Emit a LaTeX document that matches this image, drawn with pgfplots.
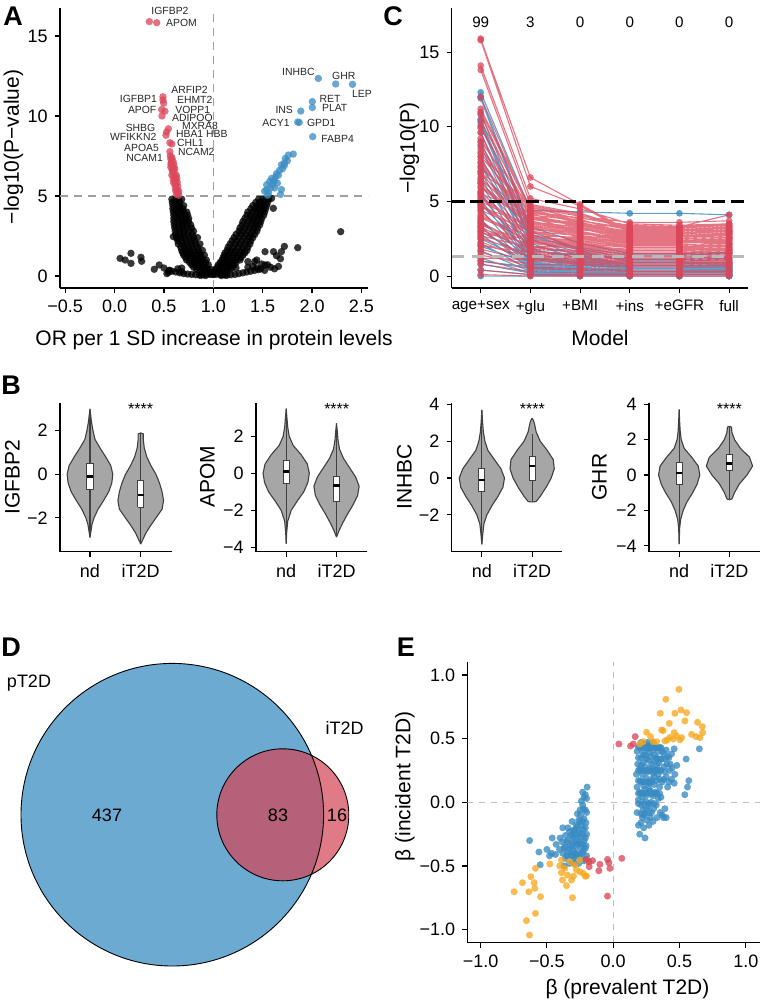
\documentclass[border=0pt]{standalone}
\usepackage{fontspec}
\setmainfont{Liberation Sans}
\usepackage{pgfplots}
\pgfplotsset{compat=1.18}
\usepackage{pgfplotstable}
\usepgfplotslibrary{fillbetween}

\definecolor{vred}{RGB}{220,72,92}
\definecolor{vblue}{RGB}{62,142,196}
\definecolor{cred}{RGB}{220,70,90}
\definecolor{cblue}{RGB}{55,138,194}
\definecolor{eorange}{RGB}{247,168,30}
\definecolor{ered}{RGB}{217,72,92}
\definecolor{eblue}{RGB}{55,138,194}
\definecolor{vgray}{RGB}{166,166,166}
\definecolor{vdark}{RGB}{64,64,64}
\definecolor{vennblue}{RGB}{109,170,210}
\definecolor{vennred}{RGB}{211,68,85}

\newcommand\tfont{\fontsize{10.5}{12}\selectfont}
\newcommand\kfont{\fontsize{9}{10}\selectfont}
\newcommand\sfont{\fontsize{7.6}{9}\selectfont}
\newcommand\lfont{\fontsize{5.2}{6}\selectfont}
\newcommand\pfont{\fontsize{13.5}{15}\selectfont\bfseries}

\pgfplotsset{
  gg/.style={scale only axis, axis lines*=left,
    axis line style={line width=0.55pt, black, -},
    tick align=outside, major tick length=2.6pt,
    every tick/.style={black, line width=0.55pt},
    tick label style={font=\kfont, text=black},
    clip mode=individual},
  pts/.style={only marks, mark=*, mark size=#1,
    mark options={draw opacity=0, fill opacity=0.78}},
}

% ---------- Panel A data ----------
\pgfplotstableread[row sep=\\]{
x y\\
0.90 0.1\\ 0.94 0.1\\ 0.97 0.1\\ 1.00 0.1\\ 0.88 0.05\\ 0.92 0.03\\ 1.08 0.03\\ 1.12 0.05\\
0.86 0.25\\ 0.92 0.25\\ 0.96 0.25\\
0.83 0.4\\ 0.87 0.4\\ 0.91 0.4\\ 0.95 0.4\\ 0.98 0.4\\
0.80 0.55\\ 0.85 0.55\\ 0.89 0.55\\ 0.93 0.55\\
0.78 0.7\\ 0.82 0.7\\ 0.86 0.7\\ 0.90 0.7\\ 0.95 0.7\\
0.76 0.85\\ 0.80 0.85\\ 0.84 0.85\\ 0.88 0.85\\ 0.92 0.85\\
0.73 1.0\\ 0.77 1.0\\ 0.81 1.0\\ 0.85 1.0\\ 0.89 1.0\\ 0.93 1.0\\
0.72 1.15\\ 0.76 1.15\\ 0.80 1.15\\ 0.84 1.15\\ 0.88 1.15\\
0.70 1.3\\ 0.74 1.3\\ 0.78 1.3\\ 0.83 1.3\\ 0.87 1.3\\ 0.91 1.3\\
0.69 1.45\\ 0.73 1.45\\ 0.77 1.45\\ 0.81 1.45\\ 0.86 1.45\\
0.68 1.6\\ 0.72 1.6\\ 0.76 1.6\\ 0.80 1.6\\ 0.85 1.6\\ 0.89 1.6\\
0.67 1.8\\ 0.71 1.8\\ 0.75 1.8\\ 0.79 1.8\\ 0.84 1.8\\
0.645 2.0\\ 0.69 2.0\\ 0.73 2.0\\ 0.78 2.0\\ 0.82 2.0\\ 0.865 2.0\\
0.64 2.2\\ 0.68 2.2\\ 0.72 2.2\\ 0.77 2.2\\ 0.81 2.2\\
0.63 2.4\\ 0.67 2.4\\ 0.71 2.4\\ 0.76 2.4\\ 0.80 2.4\\ 0.84 2.4\\
0.62 2.6\\ 0.66 2.6\\ 0.70 2.6\\ 0.74 2.6\\ 0.79 2.6\\
0.615 2.8\\ 0.66 2.8\\ 0.70 2.8\\ 0.75 2.8\\ 0.80 2.8\\
0.61 3.0\\ 0.65 3.0\\ 0.69 3.0\\ 0.73 3.0\\ 0.78 3.0\\
0.605 3.2\\ 0.65 3.2\\ 0.69 3.2\\ 0.73 3.2\\ 0.77 3.2\\
0.60 3.4\\ 0.64 3.4\\ 0.68 3.4\\ 0.71 3.4\\ 0.75 3.4\\
0.60 3.6\\ 0.64 3.6\\ 0.68 3.6\\ 0.72 3.6\\ 0.75 3.6\\
0.60 3.8\\ 0.63 3.8\\ 0.67 3.8\\ 0.71 3.8\\ 0.74 3.8\\
0.595 4.0\\ 0.63 4.0\\ 0.67 4.0\\ 0.70 4.0\\ 0.73 4.0\\
0.59 4.2\\ 0.62 4.2\\ 0.66 4.2\\ 0.69 4.2\\
0.59 4.4\\ 0.63 4.4\\ 0.66 4.4\\ 0.70 4.4\\
0.585 4.6\\ 0.62 4.6\\ 0.66 4.6\\
0.58 4.8\\ 0.62 4.8\\ 0.65 4.8\\ 0.68 4.8\\
1.00 0.1\\ 1.03 0.1\\ 1.07 0.1\\ 1.10 0.1\\
1.01 0.25\\ 1.05 0.25\\ 1.09 0.25\\ 1.13 0.25\\
1.02 0.4\\ 1.06 0.4\\ 1.10 0.4\\ 1.14 0.4\\ 1.17 0.4\\
1.04 0.55\\ 1.08 0.55\\ 1.12 0.55\\ 1.16 0.55\\ 1.19 0.55\\
1.05 0.7\\ 1.09 0.7\\ 1.13 0.7\\ 1.17 0.7\\ 1.21 0.7\\
1.07 0.85\\ 1.11 0.85\\ 1.15 0.85\\ 1.19 0.85\\ 1.23 0.85\\
1.09 1.0\\ 1.13 1.0\\ 1.17 1.0\\ 1.22 1.0\\ 1.27 1.0\\
1.10 1.15\\ 1.14 1.15\\ 1.19 1.15\\ 1.24 1.15\\ 1.28 1.15\\
1.11 1.3\\ 1.15 1.3\\ 1.20 1.3\\ 1.25 1.3\\ 1.30 1.3\\
1.12 1.45\\ 1.17 1.45\\ 1.22 1.45\\ 1.27 1.45\\ 1.32 1.45\\
1.14 1.6\\ 1.18 1.6\\ 1.23 1.6\\ 1.29 1.6\\ 1.34 1.6\\
1.15 1.8\\ 1.20 1.8\\ 1.25 1.8\\ 1.30 1.8\\ 1.35 1.8\\
1.17 2.0\\ 1.22 2.0\\ 1.27 2.0\\ 1.32 2.0\\ 1.37 2.0\\
1.19 2.2\\ 1.24 2.2\\ 1.29 2.2\\ 1.34 2.2\\ 1.38 2.2\\
1.21 2.4\\ 1.26 2.4\\ 1.31 2.4\\ 1.36 2.4\\ 1.40 2.4\\
1.23 2.6\\ 1.28 2.6\\ 1.33 2.6\\ 1.38 2.6\\ 1.42 2.6\\
1.26 2.8\\ 1.30 2.8\\ 1.35 2.8\\ 1.40 2.8\\ 1.44 2.8\\
1.27 3.0\\ 1.32 3.0\\ 1.37 3.0\\ 1.41 3.0\\ 1.45 3.0\\
1.29 3.2\\ 1.34 3.2\\ 1.39 3.2\\ 1.43 3.2\\ 1.47 3.2\\
1.30 3.4\\ 1.35 3.4\\ 1.40 3.4\\ 1.44 3.4\\ 1.48 3.4\\
1.32 3.6\\ 1.37 3.6\\ 1.41 3.6\\ 1.45 3.6\\ 1.49 3.6\\
1.34 3.8\\ 1.38 3.8\\ 1.43 3.8\\ 1.47 3.8\\ 1.51 3.8\\
1.35 4.0\\ 1.40 4.0\\ 1.44 4.0\\ 1.48 4.0\\ 1.52 4.0\\
1.38 4.2\\ 1.42 4.2\\ 1.46 4.2\\ 1.50 4.2\\ 1.53 4.2\\
1.40 4.4\\ 1.44 4.4\\ 1.48 4.4\\ 1.51 4.4\\ 1.54 4.4\\
1.43 4.6\\ 1.47 4.6\\ 1.51 4.6\\ 1.55 4.6\\
1.46 4.8\\ 1.50 4.8\\ 1.53 4.8\\ 1.56 4.8\\
0.55 0.35\\ 0.58 0.3\\ 0.62 0.25\\ 0.66 0.2\\ 0.70 0.15\\ 0.74 0.12\\ 0.78 0.1\\ 0.82 0.08\\ 0.86 0.05\\
1.14 0.05\\ 1.18 0.08\\ 1.22 0.1\\ 1.26 0.15\\ 1.30 0.2\\ 1.34 0.25\\ 1.38 0.3\\ 1.42 0.35\\ 1.46 0.4\\
0.50 0.5\\ 0.53 0.15\\ 0.56 0.35\\ 0.64 0.45\\ 0.68 0.5\\ 1.35 0.55\\ 1.40 0.6\\ 1.44 0.5\\ 1.48 0.45\\ 1.52 0.35\\ 1.55 0.7\\
0.056 1.1\\ 0.107 1.0\\ 0.166 1.42\\ 0.166 0.79\\ 0.267 1.17\\ 0.274 0.92\\ 0.402 0.42\\ 0.452 0.69\\ 0.544 0.23\\ 0.595 2.46\\ 0.63 2.4\\ 0.68 0.27\\
1.524 1.52\\ 1.61 1.52\\ 1.64 1.27\\ 1.68 1.08\\ 1.69 1.52\\ 1.72 1.85\\ 1.855 1.77\\ 1.524 0.69\\ 1.35 0.9\\ 1.42 0.9\\ 1.44 1.0\\ 1.49 0.75\\ 1.608 4.23\\ 1.59 4.85\\ 2.29 2.77\\ 1.23 0.5\\ 1.58 0.55\\ 1.62 0.45\\ 1.66 0.6\\
}\volBlack

\pgfplotstableread[row sep=\\]{
x y\\
0.352 15.9\\ 0.427 15.83\\ 0.49 11.2\\ 0.49 11.0\\ 0.497 10.8\\ 0.477 10.4\\ 0.51 10.3\\ 0.48 10.0\\
0.545 9.2\\ 0.527 9.0\\ 0.52 8.8\\ 0.56 8.33\\ 0.58 8.25\\ 0.56 7.77\\ 0.565 7.5\\ 0.57 7.3\\
0.575 7.1\\ 0.58 6.9\\ 0.57 6.8\\ 0.585 6.6\\ 0.59 6.5\\ 0.58 6.3\\ 0.6 6.2\\ 0.595 6.0\\
0.61 5.9\\ 0.6 5.8\\ 0.62 5.7\\ 0.615 5.5\\ 0.63 5.4\\ 0.62 5.3\\ 0.64 5.2\\ 0.63 5.1\\
0.65 5.05\\ 0.6 6.6\\ 0.61 6.35\\ 0.62 6.05\\ 0.64 5.6\\ 0.57 7.0\\ 0.59 7.2\\ 0.58 7.4\\
0.6 7.0\\ 0.6 6.8\\ 0.61 6.7\\ 0.625 6.3\\ 0.63 6.1\\ 0.635 5.85\\ 0.65 5.3\\
}\volRed

\pgfplotstableread[row sep=\\]{
x y\\
2.064 12.35\\ 2.24 12.0\\ 2.41 11.98\\ 2.003 10.9\\ 2.003 10.53\\ 1.886 10.31\\ 1.855 9.62\\ 1.87 9.6\\
2.007 8.71\\ 1.81 7.62\\ 1.76 7.56\\ 1.73 7.35\\ 1.72 7.05\\ 1.69 6.95\\ 1.70 6.7\\ 1.64 6.4\\
1.63 6.2\\ 1.59 6.1\\ 1.57 5.9\\ 1.54 5.7\\ 1.54 5.4\\ 1.52 5.3\\ 1.69 5.4\\ 1.68 5.1\\
1.62 5.5\\ 1.75 7.2\\ 1.67 6.6\\ 1.66 6.3\\ 1.6 5.7\\ 1.58 5.5\\ 1.56 5.2\\ 1.61 5.9\\
1.65 5.8\\ 1.72 6.9\\ 1.62 6.0\\ 1.55 5.05\\
}\volBlue

% ---------- Panel C data ----------
\pgfplotstableread[row sep=\\]{
m p\\
1 12.3\\ 2 4.4\\ 3 4.3\\ 4 4.2\\ 5 4.2\\ 6 4.1\\ nan nan\\
1 12.0\\ 2 3.3\\ 3 2.2\\ 4 1.5\\ 5 1.5\\ 6 1.6\\ nan nan\\
1 11.9\\ 2 3.0\\ 3 1.8\\ 4 1.2\\ 5 1.2\\ 6 1.3\\ nan nan\\
1 10.9\\ 2 2.8\\ 3 1.7\\ 4 0.9\\ 5 0.9\\ 6 0.9\\ nan nan\\
1 10.5\\ 2 2.5\\ 3 1.3\\ 4 0.7\\ 5 0.7\\ 6 0.8\\ nan nan\\
1 10.3\\ 2 2.2\\ 3 1.1\\ 4 0.6\\ 5 0.6\\ 6 0.6\\ nan nan\\
1 9.6\\ 2 1.9\\ 3 0.9\\ 4 0.5\\ 5 0.5\\ 6 0.5\\ nan nan\\
1 8.7\\ 2 1.6\\ 3 0.8\\ 4 0.4\\ 5 0.4\\ 6 0.4\\ nan nan\\
1 7.6\\ 2 1.4\\ 3 0.7\\ 4 0.5\\ 5 0.5\\ 6 0.6\\ nan nan\\
1 7.0\\ 2 1.2\\ 3 0.6\\ 4 0.3\\ 5 0.3\\ 6 0.3\\ nan nan\\
1 6.2\\ 2 1.0\\ 3 0.5\\ 4 0.3\\ 5 0.3\\ 6 0.3\\ nan nan\\
1 5.6\\ 2 0.9\\ 3 0.5\\ 4 0.3\\ 5 0.3\\ 6 0.4\\ nan nan\\
1 5.1\\ 2 0.8\\ 3 0.4\\ 4 0.2\\ 5 0.2\\ 6 0.2\\ nan nan\\
1 4.5\\ 2 0.7\\ 3 0.4\\ 4 0.2\\ 5 0.2\\ 6 0.3\\ nan nan\\
1 3.8\\ 2 0.6\\ 3 0.3\\ 4 0.2\\ 5 0.2\\ 6 0.2\\ nan nan\\
1 3.3\\ 2 0.5\\ 3 0.3\\ 4 0.1\\ 5 0.1\\ 6 0.1\\ nan nan\\
1 2.8\\ 2 0.5\\ 3 0.2\\ 4 0.1\\ 5 0.1\\ 6 0.1\\ nan nan\\
1 2.2\\ 2 0.4\\ 3 0.2\\ 4 0.1\\ 5 0.1\\ 6 0.1\\ nan nan\\
1 1.7\\ 2 0.3\\ 3 0.1\\ 4 0.1\\ 5 0.1\\ 6 0.1\\ nan nan\\
1 1.2\\ 2 0.2\\ 3 0.1\\ 4 0.0\\ 5 0.0\\ 6 0.0\\ nan nan\\
1 0.8\\ 2 0.2\\ 3 0.0\\ 4 0.0\\ 5 0.0\\ 6 0.0\\ nan nan\\
1 0.4\\ 2 0.1\\ 3 0.0\\ 4 0.0\\ 5 0.0\\ 6 0.0\\ nan nan\\
1 9.0\\ 2 2.0\\ 3 1.5\\ 4 1.0\\ 5 1.0\\ 6 1.1\\ nan nan\\
1 6.5\\ 2 1.7\\ 3 1.4\\ 4 0.8\\ 5 0.8\\ 6 0.9\\ nan nan\\
1 4.8\\ 2 1.5\\ 3 1.0\\ 4 0.6\\ 5 0.6\\ 6 0.7\\ nan nan\\
1 2.5\\ 2 0.9\\ 3 0.7\\ 4 0.5\\ 5 0.5\\ 6 0.5\\ nan nan\\
1 1.0\\ 2 0.6\\ 3 0.5\\ 4 0.4\\ 5 0.4\\ 6 0.4\\ nan nan\\
1 0.0\\ 2 0.0\\ 3 0.0\\ 4 0.0\\ 5 0.0\\ 6 0.0\\ nan nan\\
1 3.0\\ 2 1.1\\ 3 0.8\\ 4 0.6\\ 5 0.6\\ 6 0.6\\ nan nan\\
1 8.0\\ 2 1.8\\ 3 1.2\\ 4 0.7\\ 5 0.7\\ 6 0.7\\ nan nan\\
1 10.1\\ 2 2.4\\ 3 1.6\\ 4 1.1\\ 5 1.1\\ 6 1.2\\ nan nan\\
1 7.3\\ 2 2.6\\ 3 1.9\\ 4 1.4\\ 5 1.4\\ 6 1.5\\ nan nan\\
1 5.4\\ 2 1.3\\ 3 0.9\\ 4 0.6\\ 5 0.6\\ 6 0.5\\ nan nan\\
1 3.6\\ 2 1.2\\ 3 0.9\\ 4 0.7\\ 5 0.7\\ 6 0.8\\ nan nan\\
1 2.0\\ 2 0.8\\ 3 0.6\\ 4 0.4\\ 5 0.4\\ 6 0.5\\ nan nan\\
}\cBlue

\pgfplotstableread[row sep=\\]{
m p\\
1 15.9\\ 2 6.6\\ 3 4.8\\ 4 3.0\\ 5 3.0\\ 6 3.3\\ nan nan\\
1 15.8\\ 2 6.0\\ 3 4.7\\ 4 2.9\\ 5 2.9\\ 6 3.1\\ nan nan\\
1 14.1\\ 2 5.2\\ 3 4.5\\ 4 3.5\\ 5 3.4\\ 6 3.5\\ nan nan\\
1 13.8\\ 2 4.8\\ 3 4.2\\ 4 3.2\\ 5 3.1\\ 6 3.0\\ nan nan\\
1 11.2\\ 2 4.6\\ 3 3.8\\ 4 2.8\\ 5 3.3\\ 6 4.1\\ nan nan\\
1 11.0\\ 2 4.4\\ 3 3.5\\ 4 2.6\\ 5 2.6\\ 6 2.7\\ nan nan\\
1 10.4\\ 2 4.2\\ 3 3.2\\ 4 2.4\\ 5 2.4\\ 6 2.5\\ nan nan\\
1 10.0\\ 2 3.9\\ 3 3.0\\ 4 2.2\\ 5 2.3\\ 6 2.4\\ nan nan\\
1 9.2\\ 2 3.6\\ 3 2.9\\ 4 2.3\\ 5 2.3\\ 6 2.2\\ nan nan\\
1 8.8\\ 2 3.4\\ 3 2.6\\ 4 2.0\\ 5 2.0\\ 6 2.1\\ nan nan\\
1 8.2\\ 2 4.5\\ 3 3.6\\ 4 2.7\\ 5 2.7\\ 6 2.9\\ nan nan\\
1 7.8\\ 2 3.0\\ 3 2.4\\ 4 1.9\\ 5 1.9\\ 6 1.8\\ nan nan\\
1 7.4\\ 2 4.0\\ 3 3.3\\ 4 2.5\\ 5 2.5\\ 6 2.6\\ nan nan\\
1 7.0\\ 2 2.8\\ 3 2.2\\ 4 1.7\\ 5 1.7\\ 6 1.9\\ nan nan\\
1 6.6\\ 2 3.2\\ 3 2.7\\ 4 2.1\\ 5 2.1\\ 6 2.2\\ nan nan\\
1 6.3\\ 2 2.5\\ 3 2.0\\ 4 1.6\\ 5 1.6\\ 6 1.5\\ nan nan\\
1 6.0\\ 2 3.7\\ 3 3.0\\ 4 2.4\\ 5 2.4\\ 6 2.3\\ nan nan\\
1 5.7\\ 2 2.2\\ 3 1.8\\ 4 1.5\\ 5 1.5\\ 6 1.6\\ nan nan\\
1 5.5\\ 2 4.3\\ 3 3.9\\ 4 3.4\\ 5 3.3\\ 6 3.4\\ nan nan\\
1 5.2\\ 2 2.9\\ 3 2.5\\ 4 2.0\\ 5 2.0\\ 6 2.1\\ nan nan\\
1 4.9\\ 2 2.0\\ 3 1.6\\ 4 1.3\\ 5 1.3\\ 6 1.4\\ nan nan\\
1 4.6\\ 2 3.5\\ 3 3.1\\ 4 2.8\\ 5 2.7\\ 6 2.8\\ nan nan\\
1 4.3\\ 2 1.7\\ 3 1.4\\ 4 1.1\\ 5 1.1\\ 6 1.2\\ nan nan\\
1 4.0\\ 2 2.6\\ 3 2.3\\ 4 2.0\\ 5 2.0\\ 6 2.0\\ nan nan\\
1 3.7\\ 2 1.4\\ 3 1.2\\ 4 1.0\\ 5 1.0\\ 6 1.1\\ nan nan\\
1 3.4\\ 2 2.3\\ 3 2.0\\ 4 1.7\\ 5 1.7\\ 6 1.8\\ nan nan\\
1 3.0\\ 2 1.2\\ 3 1.0\\ 4 0.8\\ 5 0.8\\ 6 0.9\\ nan nan\\
1 2.7\\ 2 1.9\\ 3 1.7\\ 4 1.5\\ 5 1.5\\ 6 1.6\\ nan nan\\
1 2.3\\ 2 1.0\\ 3 0.8\\ 4 0.7\\ 5 0.7\\ 6 0.7\\ nan nan\\
1 2.0\\ 2 1.6\\ 3 1.4\\ 4 1.2\\ 5 1.2\\ 6 1.3\\ nan nan\\
1 1.6\\ 2 0.6\\ 3 0.5\\ 4 0.4\\ 5 0.4\\ 6 0.4\\ nan nan\\
1 1.2\\ 2 1.1\\ 3 1.0\\ 4 0.9\\ 5 0.9\\ 6 0.9\\ nan nan\\
1 0.8\\ 2 0.3\\ 3 0.2\\ 4 0.2\\ 5 0.2\\ 6 0.2\\ nan nan\\
1 0.4\\ 2 0.1\\ 3 0.1\\ 4 0.1\\ 5 0.1\\ 6 0.1\\ nan nan\\
1 6.8\\ 2 3.8\\ 3 3.5\\ 4 3.0\\ 5 3.0\\ 6 3.2\\ nan nan\\
1 8.5\\ 2 4.1\\ 3 3.7\\ 4 3.1\\ 5 3.1\\ 6 3.3\\ nan nan\\
1 9.6\\ 2 2.7\\ 3 2.1\\ 4 1.6\\ 5 1.6\\ 6 1.7\\ nan nan\\
1 5.0\\ 2 3.3\\ 3 2.8\\ 4 2.6\\ 5 2.6\\ 6 2.8\\ nan nan\\
1 0.1\\ 2 0.0\\ 3 0.0\\ 4 0.0\\ 5 0.0\\ 6 0.0\\ nan nan\\
1 3.2\\ 2 2.1\\ 3 2.6\\ 4 2.2\\ 5 2.2\\ 6 2.4\\ nan nan\\
1 7.2\\ 2 4.4\\ 3 3.7\\ 4 3.2\\ 5 3.2\\ 6 3.4\\ nan nan\\
1 6.4\\ 2 3.9\\ 3 3.4\\ 4 2.9\\ 5 2.9\\ 6 3.1\\ nan nan\\
1 5.9\\ 2 3.5\\ 3 3.2\\ 4 2.7\\ 5 2.8\\ 6 3.0\\ nan nan\\
1 5.3\\ 2 3.1\\ 3 2.9\\ 4 2.5\\ 5 2.5\\ 6 2.6\\ nan nan\\
1 4.8\\ 2 2.7\\ 3 2.6\\ 4 2.3\\ 5 2.3\\ 6 2.5\\ nan nan\\
1 4.4\\ 2 3.0\\ 3 2.7\\ 4 2.4\\ 5 2.4\\ 6 2.2\\ nan nan\\
1 3.9\\ 2 2.4\\ 3 2.2\\ 4 1.9\\ 5 1.9\\ 6 2.0\\ nan nan\\
1 3.5\\ 2 2.0\\ 3 1.9\\ 4 1.8\\ 5 1.8\\ 6 1.9\\ nan nan\\
1 3.1\\ 2 1.8\\ 3 1.6\\ 4 1.4\\ 5 1.4\\ 6 1.5\\ nan nan\\
1 2.9\\ 2 2.2\\ 3 2.0\\ 4 1.8\\ 5 1.8\\ 6 1.7\\ nan nan\\
1 2.5\\ 2 1.5\\ 3 1.3\\ 4 1.1\\ 5 1.1\\ 6 1.2\\ nan nan\\
1 2.1\\ 2 1.3\\ 3 1.1\\ 4 1.0\\ 5 1.0\\ 6 1.0\\ nan nan\\
1 1.8\\ 2 1.0\\ 3 0.9\\ 4 0.8\\ 5 0.8\\ 6 0.8\\ nan nan\\
1 1.4\\ 2 0.8\\ 3 0.7\\ 4 0.6\\ 5 0.6\\ 6 0.6\\ nan nan\\
1 1.0\\ 2 0.5\\ 3 0.4\\ 4 0.3\\ 5 0.3\\ 6 0.3\\ nan nan\\
1 8.0\\ 2 4.2\\ 3 3.9\\ 4 3.3\\ 5 3.3\\ 6 3.5\\ nan nan\\
1 9.0\\ 2 4.6\\ 3 4.0\\ 4 3.6\\ 5 3.6\\ 6 3.7\\ nan nan\\
1 7.6\\ 2 3.6\\ 3 3.3\\ 4 2.6\\ 5 2.7\\ 6 2.9\\ nan nan\\
1 6.2\\ 2 3.4\\ 3 3.0\\ 4 2.3\\ 5 2.3\\ 6 2.5\\ nan nan\\
1 5.6\\ 2 2.6\\ 3 2.4\\ 4 1.9\\ 5 1.9\\ 6 2.1\\ nan nan\\
1 4.7\\ 2 2.4\\ 3 2.1\\ 4 1.7\\ 5 1.7\\ 6 1.8\\ nan nan\\
1 4.1\\ 2 2.2\\ 3 1.9\\ 4 1.6\\ 5 1.6\\ 6 1.7\\ nan nan\\
1 3.6\\ 2 1.9\\ 3 1.7\\ 4 1.3\\ 5 1.3\\ 6 1.4\\ nan nan\\
1 3.3\\ 2 1.6\\ 3 1.5\\ 4 1.2\\ 5 1.2\\ 6 1.3\\ nan nan\\
1 2.6\\ 2 1.3\\ 3 1.2\\ 4 0.9\\ 5 0.9\\ 6 1.0\\ nan nan\\
1 6.9\\ 2 4.7\\ 3 4.1\\ 4 3.1\\ 5 3.1\\ 6 3.2\\ nan nan\\
1 12.0\\ 2 4.3\\ 3 3.6\\ 4 2.9\\ 5 2.9\\ 6 3.0\\ nan nan\\
1 10.8\\ 2 3.8\\ 3 3.4\\ 4 2.7\\ 5 2.7\\ 6 2.8\\ nan nan\\
1 9.9\\ 2 4.0\\ 3 3.5\\ 4 2.8\\ 5 2.8\\ 6 3.0\\ nan nan\\
1 8.3\\ 2 3.3\\ 3 2.9\\ 4 2.4\\ 5 2.5\\ 6 2.6\\ nan nan\\
}\cRed

% ---------- Panel B violins: y, half width ----------
\pgfplotstableread[row sep=\\]{
y w\\ -2.9 0\\ -2.6 0.02\\ -2.3 0.04\\ -2.0 0.08\\ -1.6 0.16\\ -1.2 0.27\\ -0.8 0.37\\ -0.4 0.43\\ 0.0 0.45\\ 0.4 0.41\\ 0.8 0.31\\ 1.2 0.2\\ 1.6 0.1\\ 2.0 0.06\\ 2.4 0.03\\ 2.7 0.015\\ 3.0 0\\
}\vAa
\pgfplotstableread[row sep=\\]{
y w\\ -3.2 0\\ -3.0 0.04\\ -2.7 0.1\\ -2.4 0.18\\ -2.0 0.3\\ -1.6 0.42\\ -1.2 0.45\\ -0.8 0.42\\ -0.4 0.37\\ 0.0 0.3\\ 0.4 0.2\\ 0.8 0.12\\ 1.2 0.07\\ 1.6 0.05\\ 1.85 0.05\\ 1.9 0\\
}\vAb
\pgfplotstableread[row sep=\\]{
y w\\ -3.8 0\\ -3.2 0.01\\ -2.6 0.03\\ -2.0 0.1\\ -1.5 0.22\\ -1.0 0.35\\ -0.5 0.43\\ 0.0 0.46\\ 0.5 0.42\\ 1.0 0.3\\ 1.5 0.14\\ 2.0 0.06\\ 2.5 0.03\\ 3.0 0.015\\ 3.5 0\\
}\vBa
\pgfplotstableread[row sep=\\]{
y w\\ -3.45 0\\ -3.1 0.05\\ -2.7 0.12\\ -2.2 0.22\\ -1.7 0.33\\ -1.2 0.42\\ -0.7 0.45\\ -0.2 0.38\\ 0.3 0.26\\ 0.8 0.14\\ 1.3 0.06\\ 1.8 0.03\\ 2.3 0.015\\ 2.7 0\\
}\vBb
\pgfplotstableread[row sep=\\]{
y w\\ -3.6 0\\ -3.0 0.02\\ -2.5 0.04\\ -2.0 0.1\\ -1.5 0.2\\ -1.0 0.32\\ -0.5 0.42\\ 0.0 0.45\\ 0.5 0.38\\ 1.0 0.25\\ 1.5 0.12\\ 2.0 0.06\\ 2.5 0.03\\ 3.0 0.015\\ 3.7 0\\
}\vCa
\pgfplotstableread[row sep=\\]{
y w\\ -1.3 0\\ -1.28 0.08\\ -1.0 0.16\\ -0.5 0.28\\ 0.0 0.38\\ 0.5 0.44\\ 1.0 0.42\\ 1.5 0.3\\ 2.0 0.16\\ 2.5 0.08\\ 2.9 0.05\\ 3.1 0.03\\ 3.25 0\\
}\vCb
\pgfplotstableread[row sep=\\]{
y w\\ -3.9 0\\ -3.0 0.01\\ -2.5 0.03\\ -2.0 0.08\\ -1.5 0.16\\ -1.0 0.27\\ -0.5 0.36\\ 0.0 0.41\\ 0.5 0.38\\ 1.0 0.25\\ 1.5 0.1\\ 2.0 0.04\\ 2.5 0.02\\ 3.0 0.01\\ 3.7 0\\
}\vDa
\pgfplotstableread[row sep=\\]{
y w\\ -1.4 0\\ -1.35 0.05\\ -1.0 0.1\\ -0.5 0.2\\ 0.0 0.35\\ 0.5 0.46\\ 1.0 0.4\\ 1.5 0.22\\ 2.0 0.1\\ 2.4 0.05\\ 2.7 0.04\\ 2.75 0\\
}\vDb

% ---------- Panel E data ----------
\pgfplotstableread[row sep=\\]{
x y\\
0.18 0.40\\ 0.185 0.30\\ 0.175 0.22\\ 0.18 0.12\\ 0.19 0.02\\ 0.18 -0.08\\
0.20 0.44\\ 0.21 0.35\\ 0.20 0.26\\ 0.205 0.17\\ 0.20 0.08\\ 0.21 -0.02\\ 0.19 -0.18\\
0.22 0.40\\ 0.225 0.31\\ 0.22 0.22\\ 0.23 0.13\\ 0.22 0.04\\ 0.225 -0.06\\ 0.22 -0.12\\
0.24 0.46\\ 0.245 0.37\\ 0.24 0.28\\ 0.25 0.19\\ 0.24 0.10\\ 0.245 0.01\\ 0.24 -0.09\\ 0.24 -0.28\\
0.26 0.42\\ 0.265 0.33\\ 0.26 0.24\\ 0.27 0.15\\ 0.26 0.06\\ 0.265 -0.03\\ 0.255 -0.14\\
0.28 0.45\\ 0.285 0.36\\ 0.28 0.27\\ 0.29 0.18\\ 0.28 0.09\\ 0.285 0.00\\
0.30 0.41\\ 0.305 0.32\\ 0.30 0.23\\ 0.31 0.14\\ 0.30 0.05\\ 0.305 -0.05\\ 0.30 -0.15\\
0.32 0.44\\ 0.325 0.35\\ 0.32 0.26\\ 0.33 0.17\\ 0.32 0.08\\ 0.325 -0.02\\
0.34 0.40\\ 0.345 0.31\\ 0.34 0.22\\ 0.35 0.12\\ 0.34 0.03\\
0.36 0.43\\ 0.365 0.34\\ 0.36 0.25\\ 0.37 0.16\\ 0.36 0.04\\ 0.355 -0.08\\
0.38 0.38\\ 0.385 0.28\\ 0.38 0.18\\ 0.39 -0.05\\ 0.38 -0.12\\
0.40 0.41\\ 0.405 0.30\\ 0.40 0.20\\ 0.41 0.12\\ 0.40 -0.12\\
0.42 0.35\\ 0.425 0.25\\ 0.42 0.16\\ 0.44 0.38\\ 0.445 0.27\\ 0.44 0.18\\
0.46 0.42\\ 0.465 0.22\\ 0.46 0.15\\
0.55 0.34\\ 0.57 0.17\\ 0.54 0.06\\ 0.56 0.12\\ 0.65 0.42\\ 0.48 0.29\\ 0.37 -0.10\\ 0.23 -0.20\\ 0.21 -0.16\\ 0.27 -0.18\\ 0.33 -0.12\\
0.19 0.35\\ 0.21 0.29\\ 0.23 0.37\\ 0.25 0.25\\ 0.27 0.39\\ 0.29 0.30\\ 0.31 0.37\\ 0.33 0.29\\ 0.19 0.17\\ 0.23 0.07\\ 0.27 0.11\\ 0.31 0.20\\ 0.35 0.18\\ 0.25 -0.05\\ 0.29 -0.08\\ 0.21 0.47\\ 0.26 0.47\\ 0.30 0.47\\
0.19 0.43\\ 0.21 0.43\\ 0.23 0.43\\ 0.25 0.43\\ 0.27 0.43\\ 0.29 0.43\\ 0.31 0.43\\ 0.33 0.43\\ 0.35 0.43\\
0.19 0.25\\ 0.21 0.25\\ 0.23 0.25\\ 0.25 0.34\\ 0.27 0.25\\ 0.29 0.25\\ 0.31 0.25\\ 0.33 0.25\\ 0.35 0.25\\
0.19 0.07\\ 0.21 0.16\\ 0.23 0.16\\ 0.25 0.16\\ 0.27 0.16\\ 0.29 0.16\\ 0.31 0.07\\ 0.33 0.07\\ 0.35 0.07\\
0.19 -0.01\\ 0.21 0.07\\ 0.23 -0.01\\ 0.25 0.07\\ 0.27 -0.01\\ 0.29 0.07\\ 0.31 -0.01\\ 0.33 0.34\\ 0.35 0.34\\
0.21 -0.09\\ 0.23 -0.1\\ 0.27 -0.08\\ 0.39 0.34\\ 0.39 0.24\\ 0.37 0.40\\ 0.41 0.36\\ 0.43 0.30\\ 0.20 -0.25\\ 0.28 -0.12\\
-0.196 0.12\\ -0.20 0.03\\ -0.20 -0.08\\ -0.205 -0.16\\ -0.20 -0.25\\ -0.205 -0.34\\ -0.20 -0.42\\
-0.22 0.04\\ -0.225 -0.05\\ -0.22 -0.13\\ -0.225 -0.21\\ -0.22 -0.30\\ -0.225 -0.38\\ -0.22 -0.46\\
-0.24 0.01\\ -0.245 -0.10\\ -0.24 -0.18\\ -0.245 -0.27\\ -0.24 -0.36\\ -0.245 -0.44\\
-0.26 -0.14\\ -0.265 -0.22\\ -0.26 -0.31\\ -0.265 -0.40\\ -0.26 -0.48\\
-0.28 -0.18\\ -0.285 -0.26\\ -0.28 -0.35\\ -0.285 -0.43\\
-0.30 -0.22\\ -0.305 -0.30\\ -0.30 -0.38\\ -0.305 -0.46\\
-0.32 -0.26\\ -0.325 -0.34\\ -0.32 -0.42\\ -0.34 -0.20\\ -0.345 -0.30\\ -0.34 -0.39\\
-0.36 -0.26\\ -0.365 -0.35\\ -0.36 -0.44\\ -0.38 -0.20\\ -0.385 -0.31\\ -0.38 -0.40\\
-0.40 -0.28\\ -0.405 -0.37\\ -0.43 -0.33\\ -0.435 -0.41\\ -0.46 -0.28\\ -0.465 -0.40\\
-0.63 -0.30\\ -0.56 -0.39\\ -0.55 -0.49\\ -0.48 -0.42\\ -0.50 -0.37\\
-0.21 -0.20\\ -0.23 -0.25\\ -0.25 -0.32\\ -0.27 -0.27\\ -0.29 -0.40\\ -0.31 -0.34\\ -0.23 -0.40\\ -0.21 -0.36\\ -0.25 -0.06\\ -0.23 0.08\\ -0.27 -0.09\\ -0.31 -0.15\\ -0.33 -0.48\\ -0.35 -0.42\\ -0.37 -0.50\\
-0.21 -0.06\\ -0.23 -0.15\\ -0.25 -0.24\\ -0.27 -0.33\\ -0.29 -0.22\\ -0.31 -0.42\\ -0.21 -0.28\\ -0.23 -0.33\\ -0.25 -0.15\\ -0.27 -0.42\\ -0.29 -0.31\\ -0.31 -0.26\\
-0.21 -0.45\\ -0.25 -0.41\\ -0.27 -0.19\\ -0.29 -0.48\\ -0.33 -0.37\\ -0.33 -0.23\\ -0.35 -0.31\\ -0.37 -0.36\\ -0.23 -0.02\\ -0.21 0.06\\
}\eBlue

\pgfplotstableread[row sep=\\]{
x y\\
0.496 0.887\\ 0.397 0.809\\ 0.355 0.699\\ 0.465 0.699\\ 0.511 0.725\\ 0.553 0.704\\ 0.541 0.639\\ 0.423 0.620\\
0.636 0.628\\ 0.672 0.594\\ 0.591 0.534\\ 0.624 0.516\\ 0.654 0.508\\ 0.674 0.547\\ 0.516 0.508\\ 0.503 0.49\\
0.365 0.568\\ 0.377 0.563\\ 0.46 0.547\\ 0.478 0.521\\ 0.408 0.49\\ 0.39 0.482\\ 0.252 0.55\\ 0.282 0.516\\
0.226 0.476\\ 0.201 0.458\\ 0.302 0.476\\ 0.327 0.476\\ 0.428 0.51\\ 0.453 0.497\\
-0.747 -0.702\\ -0.684 -0.631\\ -0.636 -0.702\\ -0.591 -0.675\\ -0.548 -0.741\\ -0.654 -0.929\\ -0.586 -0.872\\ -0.631 -1.042\\
-0.596 -0.631\\ -0.621 -0.584\\ -0.586 -0.518\\ -0.478 -0.484\\ -0.403 -0.5\\ -0.39 -0.552\\ -0.382 -0.61\\ -0.352 -0.654\\
-0.314 -0.61\\ -0.307 -0.749\\ -0.345 -0.571\\ -0.277 -0.531\\ -0.252 -0.544\\ -0.226 -0.558\\ -0.201 -0.578\\ -0.327 -0.466\\
-0.365 -0.518\\ -0.289 -0.492\\ -0.252 -0.453\\ -0.189 -0.466\\ -0.39 -0.453\\ -0.30 -0.58\\ -0.21 -0.58\\
}\eOrange

\pgfplotstableread[row sep=\\]{
x y\\
0.043 0.458\\ 0.131 0.442\\ 0.151 0.458\\ 0.166 0.516\\ 0.065 -0.44\\ -0.043 -0.448\\ -0.033 -0.474\\ -0.025 -0.518\\
-0.043 -0.736\\ -0.108 -0.537\\ -0.1 -0.487\\ -0.156 -0.458\\ -0.181 -0.466\\ -0.181 -0.505\\ -0.201 -0.448\\
}\eRed

\begin{document}
\begin{tikzpicture}

% ================= Panel A =================
\begin{axis}[gg, at={(30pt,-144pt)}, anchor=south west,
  width=154pt, height=140pt,
  xmin=-0.553, xmax=2.567, ymin=-0.75, ymax=16.75,
  xtick={-0.5,0,0.5,1,1.5,2,2.5},
  xticklabels={−0.5,0.0,0.5,1.0,1.5,2.0,2.5},
  ytick={0,5,10,15}, yticklabels={0,5,10,15}]
\addplot[gray!75, line width=0.55pt, dash pattern=on 4pt off 3pt] coordinates {(1,-0.75)(1,16.75)};
\addplot[gray!75, line width=0.55pt, dash pattern=on 4pt off 3pt] coordinates {(-0.553,5)(2.567,5)};
\addplot[pts=1.85pt, black] table[x=x,y=y] {\volBlack};
\addplot[pts=1.85pt, vred] table[x=x,y=y] {\volRed};
\addplot[pts=1.85pt, vblue] table[x=x,y=y] {\volBlue};
\begin{scope}[every node/.style={font=\lfont, inner sep=0pt, text=black!85}]
\node[anchor=center] at (axis cs:0.561,16.55) {IGFBP2};
\node[anchor=west] at (axis cs:0.518,15.83) {APOM};
\node[anchor=west] at (axis cs:0.571,11.65) {ARFIP2};
\node[anchor=east] at (axis cs:0.433,11.08) {IGFBP1};
\node[anchor=west] at (axis cs:0.629,11.0) {EHMT2};
\node[anchor=east] at (axis cs:0.427,10.38) {APOF};
\node[anchor=west] at (axis cs:0.612,10.4) {VOPP1};
\node[anchor=west] at (axis cs:0.579,9.82) {ADIPOQ};
\node[anchor=east] at (axis cs:0.416,9.27) {SHBG};
\node[anchor=west] at (axis cs:0.68,9.4) {MXRA8};
\node[anchor=east] at (axis cs:0.427,8.72) {WFIKKN2};
\node[anchor=west] at (axis cs:0.619,8.9) {HBA1 HBB};
\node[anchor=west] at (axis cs:0.629,8.33) {CHL1};
\node[anchor=east] at (axis cs:0.453,7.98) {APOA5};
\node[anchor=west] at (axis cs:0.639,7.78) {NCAM2};
\node[anchor=east] at (axis cs:0.493,7.4) {NCAM1};
\node[anchor=east] at (axis cs:2.03,12.77) {INHBC};
\node[anchor=west] at (axis cs:2.2,12.5) {GHR};
\node[anchor=west] at (axis cs:2.402,11.38) {LEP};
\node[anchor=west] at (axis cs:2.074,11.06) {RET};
\node[anchor=west] at (axis cs:2.098,10.5) {PLAT};
\node[anchor=east] at (axis cs:1.81,10.38) {INS};
\node[anchor=east] at (axis cs:1.777,9.54) {ACY1};
\node[anchor=west] at (axis cs:1.946,9.54) {GPD1};
\node[anchor=west] at (axis cs:2.091,8.55) {FABP4};
\end{scope}
\end{axis}

% ================= Panel C =================
\begin{axis}[gg, at={(225.85pt,-144pt)}, anchor=south west,
  width=148.15pt, height=140pt,
  xmin=0.416, xmax=6.38, ymin=-0.8, ymax=17.95,
  xtick={1,2,3,4,5,6},
  xticklabels={age+sex,+glu,+BMI,+ins,+eGFR,full},
  xticklabel style={font=\sfont},
  ytick={0,5,10,15}, yticklabels={0,5,10,15},
  unbounded coords=jump]
\addplot[cblue, line width=0.55pt, opacity=0.8, mark=*, mark size=1.7pt, mark options={draw opacity=0}] table[x=m,y=p] {\cBlue};
\addplot[cred, line width=0.55pt, opacity=0.75, mark=*, mark size=1.7pt, mark options={draw opacity=0}] table[x=m,y=p] {\cRed};
\addplot[black, line width=1.6pt, dash pattern=on 6.5pt off 2.8pt] coordinates {(0.416,5)(6.38,5)};
\addplot[gray!55, line width=1.3pt, dash pattern=on 6pt off 4pt] coordinates {(0.416,1.3)(6.38,1.3)};
\begin{scope}[every node/.style={font=\sfont, inner sep=0pt}]
\node at (axis cs:1,16.97) {99};
\node at (axis cs:2,16.97) {3};
\node at (axis cs:3,16.97) {0};
\node at (axis cs:4,16.97) {0};
\node at (axis cs:5,16.97) {0};
\node at (axis cs:6,16.97) {0};
\end{scope}
\end{axis}

% ================= Panel B =================
\begin{axis}[gg, at={(30pt,-275.85pt)}, anchor=south west,
  width=55.85pt, height=74.35pt,
  xmin=0.41, xmax=2.61, ymin=-3.55, ymax=3.27,
  xtick={1,2}, xticklabels={nd,iT2D},
  ytick={-2,0,2}, yticklabels={−2,0,2}]
\addplot[draw=none, name path=a1r] table[x expr=1+\thisrow{w}, y=y] {\vAa};
\addplot[draw=none, name path=a1l] table[x expr=1-\thisrow{w}, y=y] {\vAa};
\addplot[vgray] fill between[of=a1r and a1l];
\addplot[draw=none, name path=a2r] table[x expr=2+\thisrow{w}, y=y] {\vAb};
\addplot[draw=none, name path=a2l] table[x expr=2-\thisrow{w}, y=y] {\vAb};
\addplot[vgray] fill between[of=a2r and a2l];
\addplot[vdark, line width=0.55pt] table[x expr=1+\thisrow{w}, y=y] {\vAa};
\addplot[vdark, line width=0.55pt] table[x expr=1-\thisrow{w}, y=y] {\vAa};
\addplot[vdark, line width=0.55pt] table[x expr=2+\thisrow{w}, y=y] {\vAb};
\addplot[vdark, line width=0.55pt] table[x expr=2-\thisrow{w}, y=y] {\vAb};
\addplot[vdark, line width=0.6pt] coordinates {(1,-2.85)(1,2.9)};
\addplot[vdark, line width=0.6pt] coordinates {(2,-3.15)(2,1.88)};
\addplot[fill=white, draw=vdark, line width=0.5pt] coordinates {(0.94,-0.7)(1.06,-0.7)(1.06,0.5)(0.94,0.5)(0.94,-0.7)};
\addplot[fill=white, draw=vdark, line width=0.5pt] coordinates {(1.94,-1.5)(2.06,-1.5)(2.06,-0.3)(1.94,-0.3)(1.94,-1.5)};
\addplot[black, line width=1.3pt] coordinates {(0.94,-0.1)(1.06,-0.1)};
\addplot[black, line width=1.3pt] coordinates {(1.94,-0.95)(2.06,-0.95)};
\end{axis}

\begin{axis}[gg, at={(128pt,-275.85pt)}, anchor=south west,
  width=55.35pt, height=74.35pt,
  xmin=0.4, xmax=2.6, ymin=-4.24, ymax=3.8,
  xtick={1,2}, xticklabels={nd,iT2D},
  ytick={-4,-2,0,2}, yticklabels={−4,−2,0,2}]
\addplot[draw=none, name path=b1r] table[x expr=1+\thisrow{w}, y=y] {\vBa};
\addplot[draw=none, name path=b1l] table[x expr=1-\thisrow{w}, y=y] {\vBa};
\addplot[vgray] fill between[of=b1r and b1l];
\addplot[draw=none, name path=b2r] table[x expr=2+\thisrow{w}, y=y] {\vBb};
\addplot[draw=none, name path=b2l] table[x expr=2-\thisrow{w}, y=y] {\vBb};
\addplot[vgray] fill between[of=b2r and b2l];
\addplot[vdark, line width=0.55pt] table[x expr=1+\thisrow{w}, y=y] {\vBa};
\addplot[vdark, line width=0.55pt] table[x expr=1-\thisrow{w}, y=y] {\vBa};
\addplot[vdark, line width=0.55pt] table[x expr=2+\thisrow{w}, y=y] {\vBb};
\addplot[vdark, line width=0.55pt] table[x expr=2-\thisrow{w}, y=y] {\vBb};
\addplot[vdark, line width=0.6pt] coordinates {(1,-3.75)(1,3.45)};
\addplot[vdark, line width=0.6pt] coordinates {(2,-3.4)(2,2.65)};
\addplot[fill=white, draw=vdark, line width=0.5pt] coordinates {(0.94,-0.55)(1.06,-0.55)(1.06,0.7)(0.94,0.7)(0.94,-0.55)};
\addplot[fill=white, draw=vdark, line width=0.5pt] coordinates {(1.94,-1.5)(2.06,-1.5)(2.06,-0.15)(1.94,-0.15)(1.94,-1.5)};
\addplot[black, line width=1.3pt] coordinates {(0.94,0.1)(1.06,0.1)};
\addplot[black, line width=1.3pt] coordinates {(1.94,-0.65)(2.06,-0.65)};
\end{axis}

\begin{axis}[gg, at={(225.85pt,-275.85pt)}, anchor=south west,
  width=55.3pt, height=74.35pt,
  xmin=0.4, xmax=2.6, ymin=-4.0, ymax=4.07,
  xtick={1,2}, xticklabels={nd,iT2D},
  ytick={-2,0,2,4}, yticklabels={−2,0,2,4}]
\addplot[draw=none, name path=c1r] table[x expr=1+\thisrow{w}, y=y] {\vCa};
\addplot[draw=none, name path=c1l] table[x expr=1-\thisrow{w}, y=y] {\vCa};
\addplot[vgray] fill between[of=c1r and c1l];
\addplot[draw=none, name path=c2r] table[x expr=2+\thisrow{w}, y=y] {\vCb};
\addplot[draw=none, name path=c2l] table[x expr=2-\thisrow{w}, y=y] {\vCb};
\addplot[vgray] fill between[of=c2r and c2l];
\addplot[vdark, line width=0.55pt] table[x expr=1+\thisrow{w}, y=y] {\vCa};
\addplot[vdark, line width=0.55pt] table[x expr=1-\thisrow{w}, y=y] {\vCa};
\addplot[vdark, line width=0.55pt] table[x expr=2+\thisrow{w}, y=y] {\vCb};
\addplot[vdark, line width=0.55pt] table[x expr=2-\thisrow{w}, y=y] {\vCb};
\addplot[vdark, line width=0.6pt] coordinates {(1,-3.55)(1,3.65)};
\addplot[vdark, line width=0.6pt] coordinates {(2,-1.25)(2,2.4)};
\addplot[fill=white, draw=vdark, line width=0.5pt] coordinates {(0.94,-0.75)(1.06,-0.75)(1.06,0.5)(0.94,0.5)(0.94,-0.75)};
\addplot[fill=white, draw=vdark, line width=0.5pt] coordinates {(1.94,-0.15)(2.06,-0.15)(2.06,1.15)(1.94,1.15)(1.94,-0.15)};
\addplot[black, line width=1.3pt] coordinates {(0.94,-0.1)(1.06,-0.1)};
\addplot[black, line width=1.3pt] coordinates {(1.94,0.65)(2.06,0.65)};
\end{axis}

\begin{axis}[gg, at={(324.5pt,-275.85pt)}, anchor=south west,
  width=55.3pt, height=74.35pt,
  xmin=0.4, xmax=2.6, ymin=-4.33, ymax=4.06,
  xtick={1,2}, xticklabels={nd,iT2D},
  ytick={-4,-2,0,2,4}, yticklabels={−4,−2,0,2,4}]
\addplot[draw=none, name path=d1r] table[x expr=1+\thisrow{w}, y=y] {\vDa};
\addplot[draw=none, name path=d1l] table[x expr=1-\thisrow{w}, y=y] {\vDa};
\addplot[vgray] fill between[of=d1r and d1l];
\addplot[draw=none, name path=d2r] table[x expr=2+\thisrow{w}, y=y] {\vDb};
\addplot[draw=none, name path=d2l] table[x expr=2-\thisrow{w}, y=y] {\vDb};
\addplot[vgray] fill between[of=d2r and d2l];
\addplot[vdark, line width=0.55pt] table[x expr=1+\thisrow{w}, y=y] {\vDa};
\addplot[vdark, line width=0.55pt] table[x expr=1-\thisrow{w}, y=y] {\vDa};
\addplot[vdark, line width=0.55pt] table[x expr=2+\thisrow{w}, y=y] {\vDb};
\addplot[vdark, line width=0.55pt] table[x expr=2-\thisrow{w}, y=y] {\vDb};
\addplot[vdark, line width=0.6pt] coordinates {(1,-3.85)(1,3.65)};
\addplot[vdark, line width=0.6pt] coordinates {(2,-1.35)(2,2.7)};
\addplot[fill=white, draw=vdark, line width=0.5pt] coordinates {(0.94,-0.55)(1.06,-0.55)(1.06,0.7)(0.94,0.7)(0.94,-0.55)};
\addplot[fill=white, draw=vdark, line width=0.5pt] coordinates {(1.94,0.25)(2.06,0.25)(2.06,1.15)(1.94,1.15)(1.94,0.25)};
\addplot[black, line width=1.3pt] coordinates {(0.94,0.1)(1.06,0.1)};
\addplot[black, line width=1.3pt] coordinates {(1.94,0.65)(2.06,0.65)};
\end{axis}

% ================= Panel D (Venn) =================
\begin{axis}[scale only axis, at={(0pt,-501pt)}, anchor=south west,
  width=190pt, height=181pt, xmin=0, xmax=380, ymin=0, ymax=362,
  axis lines=none, clip=false]
\fill[vennblue] (axis cs:172.3,187.3) circle[radius=75.65pt];
\fill[vennred, fill opacity=0.71] (axis cs:282.8,187.2) circle[radius=33pt];
\draw[black, line width=0.45pt] (axis cs:172.3,187.3) circle[radius=75.65pt];
\draw[black, line width=0.45pt] (axis cs:282.8,187.2) circle[radius=33pt];
\end{axis}

% ================= Panel E =================
\begin{axis}[gg, at={(233.65pt,-471.15pt)}, anchor=south west,
  width=146.35pt, height=140.3pt,
  xmin=-1.1, xmax=1.107, ymin=-1.099, ymax=1.104,
  xtick={-1,-0.5,0,0.5,1}, xticklabels={−1.0,−0.5,0.0,0.5,1.0},
  ytick={-1,-0.5,0,0.5,1}, yticklabels={−1.0,−0.5,0.0,0.5,1.0}]
\addplot[gray!50, line width=0.55pt, dash pattern=on 3pt off 3pt] coordinates {(0,-1.099)(0,1.104)};
\addplot[gray!50, line width=0.55pt, dash pattern=on 3pt off 3pt] coordinates {(-1.1,0)(1.107,0)};
\addplot[pts=1.75pt, eblue] table[x=x,y=y] {\eBlue};
\addplot[pts=1.75pt, eorange] table[x=x,y=y] {\eOrange};
\addplot[pts=1.75pt, ered] table[x=x,y=y] {\eRed};
\end{axis}

% ================= Text in pixel coordinates =================
\begin{scope}[x=0.5pt,y=-0.5pt]
\node[font=\pfont] at (13,16) {A};
\node[font=\pfont] at (393,16) {C};
\node[font=\pfont] at (11,385) {B};
\node[font=\pfont] at (11,647) {D};
\node[font=\pfont] at (406,647) {E};
\node[font=\tfont, anchor=base] at (214,345) {OR per 1 SD increase in protein levels};
\node[font=\tfont, anchor=base] at (600,345) {Model};
\node[font=\tfont, rotate=90] at (13.5,147) {−log10(P−value)};
\node[font=\tfont, rotate=90] at (409.5,148) {−log10(P)};
\node[font=\tfont, rotate=90] at (12.5,477) {IGFBP2};
\node[font=\tfont, rotate=90] at (207.5,477) {APOM};
\node[font=\tfont, rotate=90] at (404.5,477) {INHBC};
\node[font=\tfont, rotate=90] at (599.5,477) {GHR};
\node[font=\fontsize{8}{9}\selectfont, anchor=north, inner sep=0pt] at (140.7,403.5) {****};
\node[font=\fontsize{8}{9}\selectfont, anchor=north, inner sep=0pt] at (336.7,403.5) {****};
\node[font=\fontsize{8}{9}\selectfont, anchor=north, inner sep=0pt] at (532.3,403.5) {****};
\node[font=\fontsize{8}{9}\selectfont, anchor=north, inner sep=0pt] at (729.3,403.5) {****};
\node[font=\kfont] at (29,683) {pT2D};
\node[font=\kfont] at (344.7,728) {iT2D};
\node[font=\kfont] at (107,815) {437};
\node[font=\kfont] at (278,815) {83};
\node[font=\kfont] at (337,815) {16};
\node[font=\tfont] at (627.5,989.5) {β (prevalent T2D)};
\node[font=\tfont, rotate=90] at (405,786.5) {β (incident T2D)};
\end{scope}
\pgfresetboundingbox
\path[use as bounding box] (0pt,0pt) rectangle (381pt,-501pt);
\end{tikzpicture}
\end{document}
